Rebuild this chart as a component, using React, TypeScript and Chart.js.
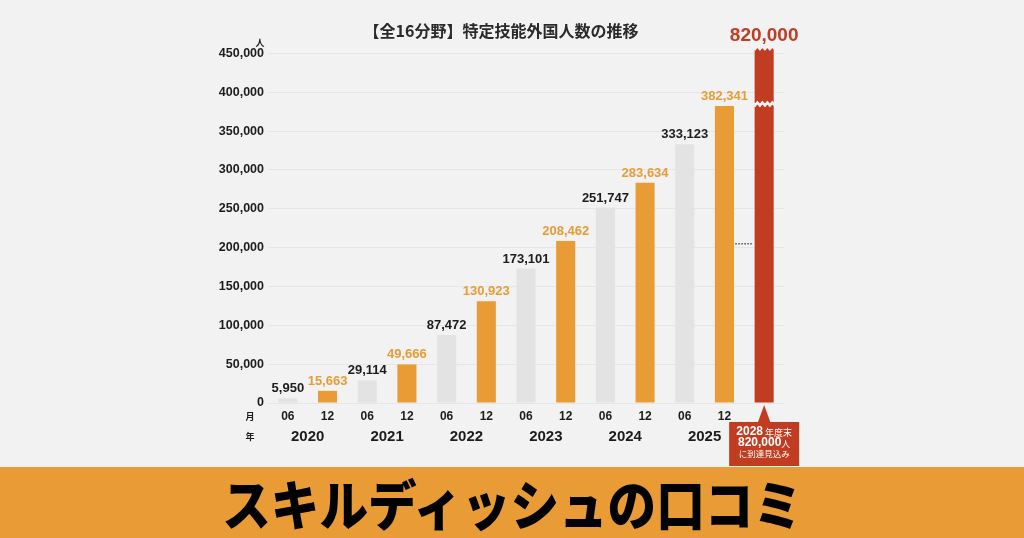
import React, { useEffect, useRef } from "react";
import { Chart, registerables } from "chart.js";
Chart.register(...registerables);

const MONTHS = ["06", "12", "06", "12", "06", "12", "06", "12", "06", "12", "06", "12", ""];
const YEARS = ["2020", "2021", "2022", "2023", "2024", "2025"];
const VALUES = [5950, 15663, 29114, 49666, 87472, 130923, 173101, 208462, 251747, 283634, 333123, 382341, 820000];
const Y_TICKS = [0, 50000, 100000, 150000, 200000, 250000, 300000, 350000, 400000, 450000];
const TITLE = "【全16分野】特定技能外国人数の推移";
const UNIT = "人";
const MONTH_MARK = "月";
const YEAR_MARK = "年";
const CALLOUT_1 = ["2028", " 年度末"];
const CALLOUT_2 = ["820,000", "人"];
const CALLOUT_3 = "に到達見込み";
const BANNER = "スキルディッシュの口コミ";

const BG = "#f2f2f2";
const GRAY = "#e3e3e3";
const ORANGE = "#e99b35";
const RED = "#c13c21";
const DARK = "#1c1c1c";
const NUM_FONT = "'Liberation Sans', Arial, sans-serif";
const JP_FONT = "'Noto Sans CJK JP', sans-serif";

const fmt = (v: number) => v.toLocaleString("en-US");

const barColor = (i: number) => (i === VALUES.length - 1 ? RED : i % 2 === 0 ? GRAY : ORANGE);

const overlay = {
  id: "overlay",
  afterDatasetsDraw(chart: any) {
    const ctx = chart.ctx as CanvasRenderingContext2D;
    const area = chart.chartArea;
    const xs = chart.scales.x;
    const ys = chart.scales.y;
    const meta = chart.getDatasetMeta(0);
    const last = VALUES.length - 1;
    ctx.save();

    // value labels
    meta.data.forEach((bar: any, i: number) => {
      if (i === last) return;
      ctx.font = `bold 13px ${NUM_FONT}`;
      ctx.fillStyle = i % 2 === 0 ? DARK : ORANGE;
      ctx.textAlign = "center";
      ctx.textBaseline = "bottom";
      ctx.fillText(fmt(VALUES[i]), bar.x, bar.y - 3);
    });

    // red bar: breaks and label
    const rb = meta.data[last];
    const half = rb.width / 2 + 1;
    const wave = (y: number, dir: number) => {
      const pts: [number, number][] = [];
      for (let x = rb.x - half; x <= rb.x + half + 0.01; x += 1) {
        pts.push([x, y + dir * 1.3 * Math.sin((x - rb.x + half) * (Math.PI / 2.5))]);
      }
      return pts;
    };
    ctx.fillStyle = BG;
    {
      const top = wave(area.top + 1.5, 1);
      ctx.beginPath();
      ctx.moveTo(rb.x - half, area.top - 2);
      ctx.lineTo(rb.x + half, area.top - 2);
      for (let k = top.length - 1; k >= 0; k--) ctx.lineTo(top[k][0], top[k][1]);
      ctx.closePath();
      ctx.fill();
    }
    {
      const yb = ys.getPixelForValue(385000);
      const a = wave(yb - 2, 1);
      const b = wave(yb + 2, 1);
      ctx.beginPath();
      a.forEach((p, k) => (k === 0 ? ctx.moveTo(p[0], p[1]) : ctx.lineTo(p[0], p[1])));
      for (let k = b.length - 1; k >= 0; k--) ctx.lineTo(b[k][0], b[k][1]);
      ctx.closePath();
      ctx.fill();
    }
    ctx.font = `bold 19px ${NUM_FONT}`;
    ctx.fillStyle = RED;
    ctx.textAlign = "center";
    ctx.textBaseline = "middle";
    ctx.fillText(fmt(VALUES[last]), rb.x, area.top - 12);

    // dotted mark
    {
      const xm = (meta.data[last - 1].x + rb.x) / 2;
      const yd = ys.getPixelForValue(205000);
      ctx.strokeStyle = "#555";
      ctx.lineWidth = 1.5;
      ctx.setLineDash([1.5, 1.5]);
      ctx.beginPath();
      ctx.moveTo(xm - 9, yd);
      ctx.lineTo(xm + 9, yd);
      ctx.stroke();
      ctx.setLineDash([]);
    }

    // callout
    {
      const cx = rb.x;
      const tip = area.bottom + 2;
      const boxTop = area.bottom + 19;
      ctx.fillStyle = RED;
      ctx.beginPath();
      ctx.moveTo(cx, tip);
      ctx.lineTo(cx + 6.5, boxTop + 1);
      ctx.lineTo(cx - 6.5, boxTop + 1);
      ctx.closePath();
      ctx.fill();
      ctx.fillRect(cx - 35, boxTop, 70, 44);
      ctx.fillStyle = "#fff";
      ctx.textBaseline = "middle";
      const twoPart = (parts: string[], y: number) => {
        ctx.font = `bold 12px ${NUM_FONT}`;
        const w1 = ctx.measureText(parts[0]).width;
        ctx.font = `9px ${JP_FONT}`;
        const w2 = ctx.measureText(parts[1]).width;
        const x0 = cx - (w1 + w2) / 2;
        ctx.textAlign = "left";
        ctx.font = `bold 12px ${NUM_FONT}`;
        ctx.fillText(parts[0], x0, y);
        ctx.font = `9px ${JP_FONT}`;
        ctx.fillText(parts[1], x0 + w1, y + 0.5);
      };
      twoPart(CALLOUT_1, boxTop + 10);
      twoPart(CALLOUT_2, boxTop + 21);
      ctx.textAlign = "center";
      ctx.font = `8.5px ${JP_FONT}`;
      ctx.fillText(CALLOUT_3, cx, boxTop + 32);
    }

    // x labels
    ctx.fillStyle = DARK;
    ctx.textAlign = "center";
    ctx.textBaseline = "middle";
    ctx.font = `bold 12px ${NUM_FONT}`;
    MONTHS.forEach((m, i) => {
      if (m) ctx.fillText(m, xs.getPixelForValue(i), area.bottom + 14);
    });
    ctx.font = `bold 15px ${NUM_FONT}`;
    YEARS.forEach((y, k) => {
      const x = (xs.getPixelForValue(2 * k) + xs.getPixelForValue(2 * k + 1)) / 2;
      ctx.fillText(y, x, area.bottom + 34);
    });
    ctx.font = `bold 9px ${JP_FONT}`;
    ctx.fillText(MONTH_MARK, area.left - 18, area.bottom + 14);
    ctx.fillText(YEAR_MARK, area.left - 18, area.bottom + 34);
    ctx.fillText(UNIT, area.left - 8, ys.getPixelForValue(450000) - 11);

    // title
    ctx.font = `bold 16px ${JP_FONT}`;
    ctx.fillStyle = "#2a2a2a";
    ctx.fillText(TITLE, 501, 31);

    ctx.restore();
  },
};

export default function App() {
  const ref = useRef<HTMLCanvasElement>(null);
  useEffect(() => {
    if (!ref.current) return;
    const chart = new Chart(ref.current, {
      type: "bar",
      data: {
        labels: MONTHS.map((m, i) => `${i}-${m}`),
        datasets: [
          {
            data: VALUES,
            backgroundColor: VALUES.map((_, i) => barColor(i)),
            barPercentage: 0.48,
            categoryPercentage: 1,
            clip: { left: 5, top: 0, right: 5, bottom: 5 } as any,
          },
        ],
      },
      options: {
        responsive: false,
        animation: false,
        devicePixelRatio: 1,
        layout: { padding: { top: 48, bottom: 135, left: 0, right: 240 } },
        plugins: { legend: { display: false }, tooltip: { enabled: false }, title: { display: false } },
        scales: {
          x: { display: false },
          y: {
            min: 0,
            max: 457000,
            afterFit: (s: any) => {
              s.width = 268;
            },
            afterBuildTicks: (s: any) => {
              s.ticks = Y_TICKS.map((v) => ({ value: v }));
            },
            border: { display: false },
            grid: { color: "#e6e6e6", lineWidth: 1, drawTicks: false },
            ticks: {
              padding: 4,
              color: DARK,
              font: { family: NUM_FONT, size: 12.5, weight: "bold" },
              callback: (v: any) => fmt(Number(v)),
            },
          },
        },
      },
      plugins: [overlay],
    });
    return () => chart.destroy();
  }, []);

  return (
    <div style={{ position: "absolute", left: 0, top: 0, width: 1024, height: 538, background: BG, overflow: "hidden" }}>
      <canvas ref={ref} width={1024} height={538} style={{ position: "absolute", left: 0, top: 0 }} />
      <div
        style={{
          position: "absolute",
          left: 0,
          top: 467,
          width: 1024,
          height: 71,
          background: "#e99b36",
          display: "flex",
          alignItems: "center",
          justifyContent: "center",
        }}
      >
        <span
          style={{
            display: "inline-block",
            fontFamily: JP_FONT,
            fontWeight: 900,
            fontSize: 54,
            color: "#000",
            transform: "scaleX(0.9)",
            lineHeight: 1,
          }}
        >
          {BANNER}
        </span>
      </div>
    </div>
  );
}
